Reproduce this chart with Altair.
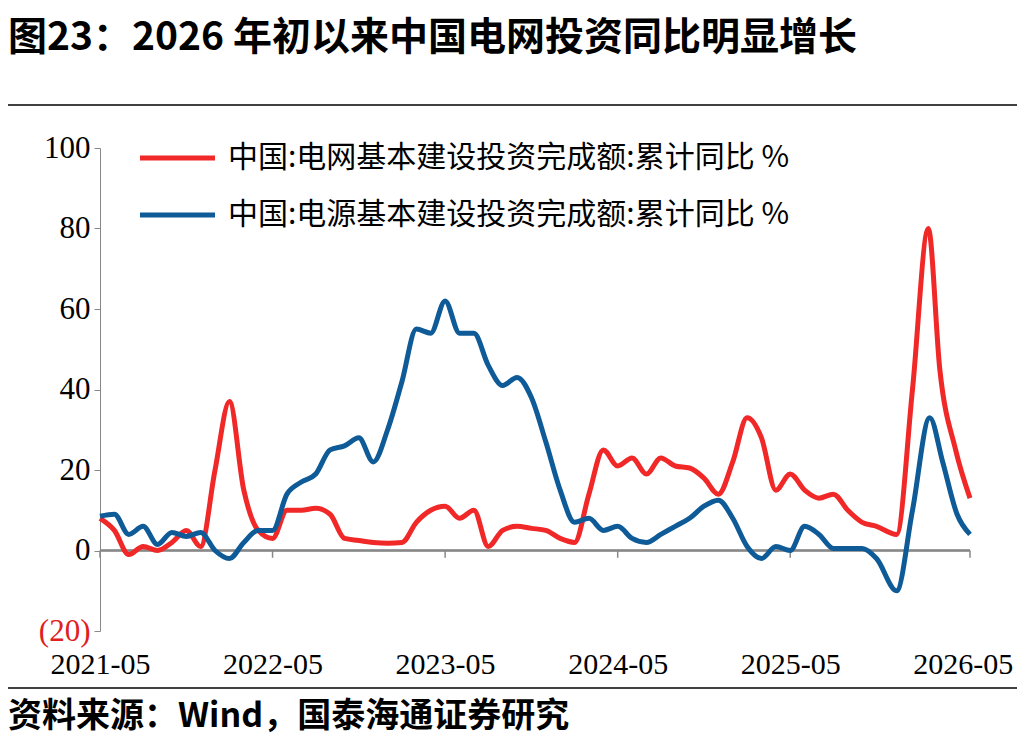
import altair as alt
import pandas as pd

# month index 0 = 2021-05; the last months are spaced irregularly
base_idx = list(range(0, 55))
grid_idx = base_idx + [55.4, 56.5, 57.6, 58.4, 59.5, 60.5]
grid_vals = [8, 5, -1, 1, 0, 2, 5, 1, 20, 37, 15, 5, 3, 10, 10, 10.5, 9, 3, 2.5, 2, 1.8, 2,
             7, 10, 11, 8, 10, 1, 5, 6, 5.5, 5, 3, 2, 14, 25, 21, 23, 19, 23, 21, 20.5, 18, 14,
             22, 33, 28, 15, 19, 15, 13, 14, 10, 7, 6, 4, 40, 80, 45, 25, 13]
power_idx = base_idx + [55.4, 56.5, 57.7, 58.6, 59.6, 60.5]
power_vals = [8.5, 9, 4, 6, 1.5, 4.5, 3.5, 4.5, 0, -2, 2, 5, 5, 14, 17, 19, 25, 26, 28, 22, 30,
              42, 55, 54, 62, 54, 54, 46, 41, 43, 38, 27, 15, 7, 8, 5, 6, 3, 2, 4, 6, 8, 11,
              12.5, 8, 1, -2, 1, 0, 6, 4, 0.5, 0.5, 0.5, -2, -10, 10, 33, 22, 9, 4]
series_names = ["中国:电网基本建设投资完成额:累计同比 %", "中国:电源基本建设投资完成额:累计同比 %"]
tick_idx = [0, 12, 24, 36, 48, 60.5]
label_idx = [0, 12, 24, 36, 48, 60]
tick_labels = ["2021-05", "2022-05", "2023-05", "2024-05", "2025-05", "2026-05"]

RED = "#F02828"
BLUE = "#0E5B97"
SERIF = "Liberation Serif"
CJK = "Noto Sans CJK SC"

df = pd.concat([
    pd.DataFrame({"m": grid_idx, "v": grid_vals, "s": series_names[0]}),
    pd.DataFrame({"m": power_idx, "v": power_vals, "s": series_names[1]}),
])
ticks = pd.DataFrame({"m": tick_idx, "y0": 0, "y1": -1.8})

label_expr = "{" + ",".join(f"'{k}':'{l}'" for k, l in zip(label_idx, tick_labels)) + "}[datum.value]"

x = alt.X("m:Q", scale=alt.Scale(domain=[0, 60.5], nice=False),
          axis=alt.Axis(values=label_idx, labelExpr=label_expr, title=None, grid=False,
                        domain=False, ticks=False, labelFont=SERIF, labelFontSize=30,
                        labelColor="black", labelPadding=18, labelOverlap=False,
                        labelBound=False, labelFlush=False))
y = alt.Y("v:Q", scale=alt.Scale(domain=[-20, 100], nice=False),
          axis=alt.Axis(values=list(range(-20, 101, 20)), title=None, grid=False,
                        labelExpr="datum.value < 0 ? '(' + abs(datum.value) + ')' : datum.value",
                        labelColor={"expr": "datum.value < 0 ? '#E02020' : 'black'"},
                        labelFont=SERIF, labelFontSize=31, domainColor="#888", tickColor="#888",
                        tickSize=6, labelPadding=4))

lines = alt.Chart(df).mark_line(strokeWidth=5, interpolate="monotone").encode(
    x=x, y=y,
    color=alt.Color("s:N", scale=alt.Scale(domain=series_names, range=[RED, BLUE]), legend=None),
)

zero = alt.Chart(ticks).mark_rule(color="#888", strokeWidth=1.5).encode(
    x=alt.value(0), x2=alt.value(870), y=alt.Y("y0:Q"))
tick_marks = alt.Chart(ticks).mark_rule(color="#888", strokeWidth=1.5).encode(
    x="m:Q", y="y0:Q", y2="y1:Q")

legend_df = pd.DataFrame({"s": series_names, "py": [10, 67], "c": [RED, BLUE]})
leg_lines = alt.Chart(legend_df).mark_rule(strokeWidth=5).encode(
    x=alt.value(40), x2=alt.value(115), y=alt.Y("py:Q", scale=None),
    color=alt.Color("c:N", scale=None))
leg_text = alt.Chart(legend_df).mark_text(align="left", baseline="middle", font=CJK,
                                          fontSize=30).encode(
    x=alt.value(128), y=alt.Y("py:Q", scale=None), text="s:N")

title = alt.Chart(pd.DataFrame({"t": ["图23：2026 年初以来中国电网投资同比明显增长"]})).mark_text(
    align="left", baseline="middle", font=CJK, fontSize=39, fontWeight="bold", color="black").encode(
    x=alt.value(-92), y=alt.value(-110), text="t:N")
source = alt.Chart(pd.DataFrame({"t": ["资料来源：Wind，国泰海通证券研究"]})).mark_text(
    align="left", baseline="middle", font=CJK, fontSize=34, fontWeight="bold", color="black").encode(
    x=alt.value(-92), y=alt.value(569), text="t:N")
hr = alt.Chart(pd.DataFrame({"y": [-43, 540]})).mark_rule(color="black", strokeWidth=1.5).encode(
    x=alt.value(-92), x2=alt.value(925), y=alt.Y("y:Q", scale=None))

chart = alt.layer(zero, tick_marks, lines, leg_lines, leg_text, title, source, hr).properties(
    width=870, height=483,
    autosize=alt.AutoSizeParams(type="none"),
    padding={"left": 92, "top": 140, "right": 47, "bottom": 105},
).configure_view(stroke=None)

chart.save("out.html", embed_options={"renderer": "svg", "actions": False})
